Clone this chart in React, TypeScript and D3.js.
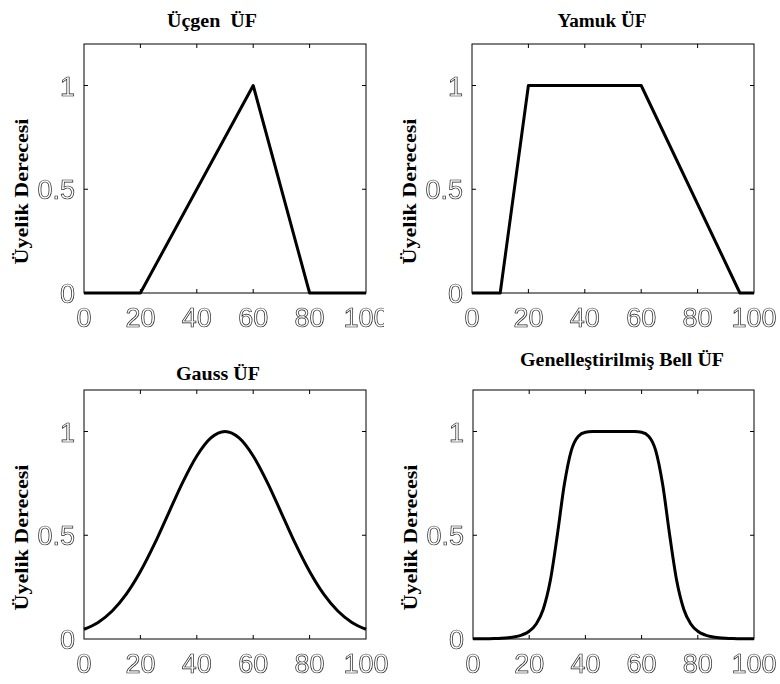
import React from "react";
import * as d3 from "d3";

// ---- data ----
const xTicks = [0, 20, 40, 60, 80, 100];
const yTicks = [0, 0.5, 1];
const yTickLabels = ["0", "0.5", "1"];
const titles = ["Üçgen  ÜF", "Yamuk ÜF", "Gauss ÜF", "Genelleştirilmiş Bell ÜF"];
const yLabel = "Üyelik Derecesi";

const triX = [0, 20, 60, 80, 100];
const triY = [0, 0, 1, 0, 0];

const trapX = [0, 10, 20, 60, 95, 100];
const trapY = [0, 0, 1, 1, 0, 0];

const gaussX = [0, 5, 10, 15, 20, 25, 30, 35, 40, 45, 50, 55, 60, 65, 70, 75, 80, 85, 90, 95, 100];
const gaussY = [0.047, 0.08, 0.135, 0.216, 0.325, 0.458, 0.607, 0.755, 0.882, 0.969, 1.0,
  0.969, 0.882, 0.755, 0.607, 0.458, 0.325, 0.216, 0.135, 0.08, 0.047];

const bellX = [0, 2.5, 5, 7.5, 10, 12.5, 15, 17.5, 20, 22.5, 25, 27.5, 30, 32.5, 35, 37.5, 40, 42.5, 45, 47.5,
  50, 52.5, 55, 57.5, 60, 62.5, 65, 67.5, 70, 72.5, 75, 77.5, 80, 82.5, 85, 87.5, 90, 92.5, 95, 97.5, 100];
const bellY = [0.0007, 0.001, 0.0015, 0.0024, 0.0039, 0.0065, 0.0112, 0.0202, 0.0376, 0.0726, 0.1437, 0.2804,
  0.5, 0.7443, 0.909, 0.9773, 0.9961, 0.9996, 1, 1, 1,
  1, 1, 0.9996, 0.9961, 0.9773, 0.909, 0.7443, 0.5, 0.2804, 0.1437, 0.0726, 0.0376, 0.0202, 0.0112, 0.0065,
  0.0039, 0.0024, 0.0015, 0.001, 0.0007];

const seriesX = [triX, trapX, gaussX, bellX];
const seriesY = [triY, trapY, gaussY, bellY];

// ---- layout ----
const panels = [
  { left: 84, right: 366, top: 44, bottom: 293, titleX: 212, titleY: 27, titleLen: 90, clipRight: 384, smooth: false },
  { left: 472, right: 754, top: 44, bottom: 293, titleX: 602, titleY: 27, titleLen: 89, clipRight: 780, smooth: false },
  { left: 84, right: 366, top: 390, bottom: 639, titleX: 218, titleY: 380, titleLen: 84, clipRight: 780, smooth: true },
  { left: 473, right: 754, top: 390, bottom: 639, titleX: 622, titleY: 366, titleLen: 204, clipRight: 780, smooth: true },
];

const tickFont = "'Liberation Sans Narrow', 'Liberation Sans', Arial, sans-serif";
const serifFont = "'Liberation Serif', 'Times New Roman', serif";

function Panel({ i }: { i: number }) {
  const p = panels[i];
  const x = d3.scaleLinear().domain([0, 100]).range([p.left, p.right]);
  const y = d3.scaleLinear().domain([0, 1.2]).range([p.bottom, p.top]);
  const xs = seriesX[i];
  const ys = seriesY[i];
  const pts: [number, number][] = xs.map((v, k) => [v, ys[k]]);
  const line = d3
    .line<[number, number]>()
    .x((d) => x(d[0]))
    .y((d) => y(d[1]))
    .curve(p.smooth ? d3.curveMonotoneX : d3.curveLinear);
  const clipId = `clip${i}`;
  const tl = 4;
  return (
    <g>
      <defs>
        <clipPath id={clipId}>
          <rect x={0} y={0} width={p.clipRight} height={684} />
        </clipPath>
      </defs>
      <text
        x={p.titleX}
        y={p.titleY}
        textAnchor="middle"
        fontFamily={serifFont}
        fontWeight="bold"
        fontSize={18}
        textLength={p.titleLen}
        lengthAdjust="spacingAndGlyphs"
        style={{ whiteSpace: "pre" }}
        fill="#000"
      >
        {titles[i]}
      </text>
      <text
        transform={`translate(${p.left - 56},${(p.top + p.bottom) / 2 + 23}) rotate(-90)`}
        textAnchor="middle"
        fontFamily={serifFont}
        fontWeight="bold"
        fontSize={18}
        textLength={146}
        lengthAdjust="spacingAndGlyphs"
        fill="#000"
      >
        {yLabel}
      </text>
      <rect x={p.left} y={p.top} width={p.right - p.left} height={p.bottom - p.top} fill="#fff" stroke="#000" strokeWidth={1} />
      {xTicks.slice(1, -1).map((t) => (
        <g key={"xt" + t}>
          <line x1={x(t)} x2={x(t)} y1={p.bottom} y2={p.bottom - tl} stroke="#000" />
          <line x1={x(t)} x2={x(t)} y1={p.top} y2={p.top + tl} stroke="#000" />
        </g>
      ))}
      {yTicks.slice(1).map((t) => (
        <g key={"yt" + t}>
          <line x1={p.left} x2={p.left + tl} y1={y(t)} y2={y(t)} stroke="#000" />
          <line x1={p.right} x2={p.right - tl} y1={y(t)} y2={y(t)} stroke="#000" />
        </g>
      ))}
      <path d={line(pts) || ""} fill="none" stroke="#000" strokeWidth={3} strokeLinejoin="round" />
      <g opacity={0.999}>
        <g clipPath={`url(#${clipId})`}>
          {xTicks.map((t) => (
            <text
              key={"xl" + t}
              x={x(t)}
              y={p.bottom + 34}
              textAnchor="middle"
              fontFamily={tickFont}
              fontSize={27}
              fill="#fff"
              stroke="#222"
              strokeWidth={0.7}
            >
              {String(t)}
            </text>
          ))}
        </g>
        {yTicks.map((t, k) => (
          <text
            key={"yl" + t}
            x={p.left - 9}
            y={y(t) + 10}
            textAnchor="end"
            fontFamily={tickFont}
            fontSize={27}
            fill="#fff"
            stroke="#222"
            strokeWidth={0.7}
          >
            {yTickLabels[k]}
          </text>
        ))}
      </g>
    </g>
  );
}

export default function App() {
  return (
    <svg
      width={780}
      height={684}
      viewBox="0 0 780 684"
      style={{ position: "absolute", left: 0, top: 0, background: "#fff" }}
    >
      <rect x={0} y={0} width={780} height={684} fill="#fff" />
      {panels.map((_, i) => (
        <Panel key={i} i={i} />
      ))}
    </svg>
  );
}
